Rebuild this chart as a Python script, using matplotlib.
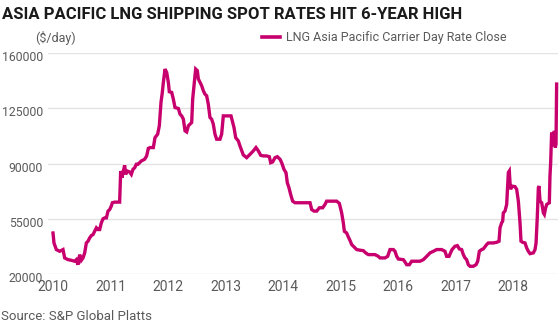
import matplotlib
matplotlib.use("Agg")
import matplotlib.pyplot as plt
from matplotlib.transforms import ScaledTranslation
from matplotlib.lines import Line2D
from matplotlib import font_manager

title = "ASIA PACIFIC LNG SHIPPING SPOT RATES HIT 6-YEAR HIGH"
unit_label = "($/day)"
series_name = "LNG Asia Pacific Carrier Day Rate Close"
source = "Source: S&P Global Platts"

year_ticks = [2010, 2011, 2012, 2013, 2014, 2015, 2016, 2017, 2018]
value_ticks = [20000, 55000, 90000, 125000, 160000]

dates = [
    2010.000, 2010.017, 2010.058, 2010.116, 2010.174, 2010.203, 2010.261, 2010.319, 2010.377, 2010.406,
    2010.435, 2010.464, 2010.493, 2010.522, 2010.551, 2010.580, 2010.609, 2010.638, 2010.667, 2010.696,
    2010.725, 2010.754, 2010.783, 2010.812, 2010.841, 2010.870, 2010.899, 2010.928, 2010.957, 2010.986,
    2011.014, 2011.032, 2011.072, 2011.159, 2011.177, 2011.200, 2011.217, 2011.246, 2011.264, 2011.293,
    2011.333, 2011.362, 2011.391, 2011.420, 2011.449, 2011.478, 2011.536, 2011.594, 2011.629, 2011.658,
    2011.687, 2011.745, 2011.774, 2011.820, 2011.849, 2011.878, 2011.901, 2011.919, 2011.948, 2011.977,
    2012.006, 2012.023, 2012.064, 2012.093, 2012.122, 2012.180, 2012.209, 2012.238, 2012.267, 2012.296,
    2012.325, 2012.354, 2012.412, 2012.429, 2012.458, 2012.481, 2012.510, 2012.528, 2012.557, 2012.586,
    2012.615, 2012.643, 2012.672, 2012.701, 2012.730, 2012.759, 2012.788, 2012.817, 2012.846, 2012.904,
    2012.933, 2012.962, 2013.096, 2013.119, 2013.148, 2013.177, 2013.223, 2013.252, 2013.310, 2013.368,
    2013.426, 2013.484, 2013.530, 2013.571, 2013.612, 2013.658, 2013.716, 2013.762, 2013.786, 2013.820,
    2013.861, 2013.901, 2013.948, 2013.977, 2014.017, 2014.052, 2014.075, 2014.104, 2014.133, 2014.168,
    2014.209, 2014.470, 2014.499, 2014.539, 2014.586, 2014.632, 2014.690, 2014.730, 2014.759, 2014.933,
    2014.980, 2015.020, 2015.049, 2015.067, 2015.107, 2015.136, 2015.165, 2015.194, 2015.223, 2015.281,
    2015.339, 2015.397, 2015.438, 2015.484, 2015.600, 2015.658, 2015.687, 2015.774, 2015.820, 2015.861,
    2015.919, 2015.948, 2015.977, 2016.006, 2016.093, 2016.122, 2016.151, 2016.197, 2016.238, 2016.383,
    2016.441, 2016.499, 2016.557, 2016.615, 2016.672, 2016.759, 2016.817, 2016.846, 2016.887, 2016.940,
    2016.991, 2017.032, 2017.067, 2017.107, 2017.136, 2017.165, 2017.194, 2017.223, 2017.252, 2017.310,
    2017.357, 2017.386, 2017.415, 2017.455, 2017.484, 2017.542, 2017.571, 2017.658, 2017.716, 2017.757,
    2017.774, 2017.803, 2017.820, 2017.832, 2017.861, 2017.890, 2017.901, 2017.919, 2017.936, 2017.948,
    2017.959, 2017.977, 2018.035, 2018.064, 2018.093, 2018.122, 2018.139, 2018.168, 2018.209, 2018.238,
    2018.267, 2018.296, 2018.354, 2018.383, 2018.401, 2018.423, 2018.441, 2018.452, 2018.470, 2018.499,
    2018.528, 2018.545, 2018.568, 2018.586, 2018.632, 2018.643, 2018.655, 2018.672, 2018.684, 2018.701,
    2018.719, 2018.736, 2018.748, 2018.759,
]

rates = [
    46000, 39700, 35500, 34400, 35500, 30200, 29100, 28700, 28100, 29100,
    25900, 32300, 28700, 30200, 33400, 39700, 40800, 42900, 44400, 45000,
    47100, 49300, 48200, 48200, 52500, 55000, 55600, 55600, 59900, 60900,
    63100, 65200, 65600, 65600, 85300, 81100, 84300, 88900, 83200, 85300,
    84700, 83200, 86400, 87400, 89600, 89600, 91700, 92800, 94900, 99700,
    100200, 100200, 106500, 108700, 114000, 128800, 135200, 141500, 150000, 147900,
    141500, 135600, 135200, 130900, 125600, 125000, 121400, 120300, 118200, 110800,
    110100, 114000, 116100, 130900, 141500, 150000, 149000, 143700, 141500, 139400,
    136200, 134100, 133100, 127700, 119300, 118200, 115000, 108700, 105500, 105500,
    108700, 120300, 120300, 117100, 112900, 106500, 104400, 101200, 95500, 93800,
    95900, 98100, 100200, 98100, 95300, 94900, 94900, 94400, 90600, 91100,
    93800, 94400, 92800, 90600, 86400, 84300, 77900, 74700, 70500, 66200,
    65200, 65200, 60900, 59900, 59900, 62000, 62000, 64100, 66200, 66200,
    64800, 58800, 52500, 47100, 46000, 43500, 41300, 38700, 37600, 35500,
    35100, 34800, 33400, 32300, 32300, 31200, 30200, 30200, 31200, 35500,
    35500, 34400, 31200, 29500, 29100, 27600, 25900, 25900, 28100, 28100,
    29100, 31200, 33400, 34400, 35500, 35500, 34400, 31200, 31200, 35500,
    37600, 38000, 35900, 35500, 32300, 30200, 29100, 25900, 24900, 24900,
    25900, 28100, 34400, 35500, 35900, 38700, 39700, 39700, 40100, 40800,
    49300, 52500, 53500, 58800, 59900, 64100, 71500, 84300, 85300, 77900,
    73700, 75800, 75400, 73700, 66200, 52500, 40800, 40100, 39700, 36500,
    34400, 32900, 33400, 35500, 39700, 56700, 74700, 75800, 66200, 65200,
    58800, 57800, 62000, 64100, 65200, 82100, 90600, 109700, 103400, 101200,
    110800, 100200, 102300, 140500,
]

LINE = "#c8006e"
GRAY = "#5a5a5a"
GRID = "#e3e3e3"
FONT = ["Roboto", "DejaVu Sans"]
plt.rcParams["font.family"] = FONT

available = {f.name for f in font_manager.fontManager.ttflist}
title_family = FONT
for cand in ["Liberation Sans Narrow", "DejaVu Sans Condensed"]:
    if cand in available:
        title_family = [cand, "DejaVu Sans"]
        break

W, H = 560, 325
fig = plt.figure(figsize=(W / 100, H / 100), dpi=100)
ax = fig.add_axes([48 / W, 1 - 274 / H, (558 - 48) / W, (274 - 53.3) / H])

ax.plot(dates, rates, color=LINE, lw=2.4, solid_joinstyle="miter", clip_on=False, zorder=3)

ax.set_xlim(2010 - 5 / 57.5, 2010 + 505 / 57.5)
ax.set_ylim(20000, 160000)
ax.set_xticks(year_ticks)
ax.set_xticklabels([str(y) for y in year_ticks])
ax.set_yticks(value_ticks)
ax.set_yticklabels([str(v) for v in value_ticks])
ax.grid(axis="y", color=GRID, lw=1)
ax.set_axisbelow(True)
for s in ax.spines.values():
    s.set_visible(False)
ax.tick_params(axis="x", length=0, pad=4.5, labelsize=10, labelcolor=GRAY)
ax.tick_params(axis="y", length=0, pad=3.5, labelsize=8.8, labelcolor=GRAY)
off = ScaledTranslation(0, -3 / 100, fig.dpi_scale_trans)
for lab in ax.get_yticklabels():
    lab.set_transform(lab.get_transform() + off)

t = fig.text(2 / W, 1 - 19 / H, title, fontsize=14, fontweight="bold", color="#1a1a1a",
             ha="left", va="baseline", family=title_family)
fig.canvas.draw()
r = fig.canvas.get_renderer()
w = t.get_window_extent(r).width
t.set_fontsize(14 * 461 / w)

fig.text(35 / W, 1 - 38 / H, unit_label, fontsize=9, color=GRAY, ha="left", va="center")

handle = Line2D([], [], color=LINE, lw=2.6)
fig.legend([handle], [series_name], loc="center left", bbox_to_anchor=(262 / W, 1 - 38 / H),
           frameon=False, fontsize=9, labelcolor=GRAY, handlelength=1.4, handletextpad=0.5,
           borderpad=0, borderaxespad=0)

fig.text(1 / W, 1 - 317 / H, source, fontsize=9.5, color=GRAY, ha="left", va="center")

fig.savefig("out.png", dpi=100)
